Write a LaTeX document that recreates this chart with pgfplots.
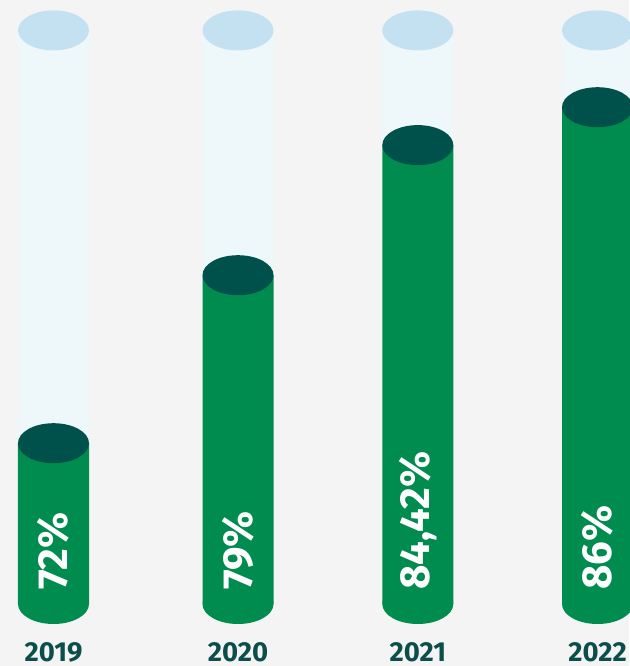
\documentclass[border=0pt]{standalone}
\usepackage{pgfplots}
\pgfplotsset{compat=1.18}
\usepackage{fontspec}
\setmainfont{Fira Sans}
\definecolor{bg}{HTML}{F4F4F4}
\definecolor{tube}{HTML}{EEF7F9}
\definecolor{capl}{HTML}{C3E1F1}
\definecolor{grn}{HTML}{008B4F}
\definecolor{capd}{HTML}{00514B}
\definecolor{yearc}{HTML}{0B4E4A}
\pgfdeclareplotmark{cap}{\pgfpathellipse{\pgfpointorigin}{\pgfqpoint{35.5pt}{0pt}}{\pgfqpoint{0pt}{20pt}}\pgfusepathqfill}
\pgfplotstableread{
x      y      b     t     lab       yr
0      72     65.3  89.2  72\%      2019
1.0175 79     65.3  89.2  79\%      2020
2.009  84.42  65.3  89.2  84,42\%   2021
3      86     65.3  89.2  86\%      2022
}\datatab
\begin{document}
\begin{tikzpicture}
\useasboundingbox (0,0) rectangle (629pt,666pt);
\fill[bg] (0,0) rectangle (629pt,666pt);
\begin{axis}[anchor=south west, at={(53.5pt,62pt)}, scale only axis,
  width=544pt, height=573.6pt, xmin=0, xmax=3, ymin=0, ymax=23.9,
  hide axis, clip=false, enlargelimits=false,
  y filter/.expression={y-65.3}]
\addplot[ybar, bar shift=0pt, bar width=71pt, fill=tube, draw=none] table[x=x,y=t] {\datatab};
\addplot[only marks, mark=cap, mark options={fill=capl, draw=none}] table[x=x,y=t] {\datatab};
\addplot[only marks, mark=cap, mark options={fill=grn, draw=none}] table[x=x,y=b] {\datatab};
\addplot[ybar, bar shift=0pt, bar width=71pt, fill=grn, draw=none] table[x=x,y=y] {\datatab};
\addplot[only marks, mark=cap, mark options={fill=capd, draw=none}] table[x=x,y=y] {\datatab};
\addplot[only marks, mark=none, nodes near coords, point meta=explicit symbolic,
  nodes near coords style={yshift=14pt, rotate=90, anchor=west, inner sep=0pt,
  text=white, font=\fontsize{42}{50}\selectfont\bfseries}]
  table[x=x, y=b, meta=lab] {\datatab};
\addplot[only marks, mark=none, nodes near coords, point meta=explicit symbolic,
  nodes near coords style={yshift=-57pt, anchor=base, inner sep=0pt,
  text=yearc, font=\fontsize{27.5}{33}\selectfont\bfseries}]
  table[x=x, y=b, meta=yr] {\datatab};
\end{axis}
\end{tikzpicture}
\end{document}
